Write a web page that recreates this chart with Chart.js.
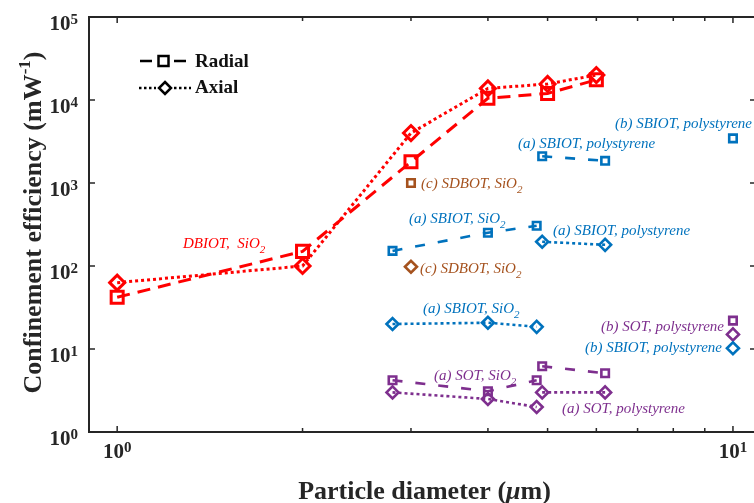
<!DOCTYPE html>
<html><head><meta charset="utf-8">
<script src="https://cdn.jsdelivr.net/npm/chart.js@4.4.1/dist/chart.umd.min.js"></script>
<style>html,body{margin:0;padding:0;overflow:hidden;background:#fff}</style>
</head><body>
<canvas id="c" width="770" height="503" style="width:770px;height:503px;display:block"></canvas>
<script>
// ---- data ----
const dbiotX = [1, 2, 3, 4, 5, 6];
const dbiotRadial = [42, 150, 1800, 10500, 12000, 17500];
const dbiotAxial = [63, 100, 4000, 13800, 15600, 20000];
const sbiotSiO2X = [2.8, 4.0, 4.8];
const sbiotSiO2Radial = [152, 252, 305];
const sbiotSiO2Axial = [20, 20.7, 18.5];
const sbiotPsAX = [4.9, 6.2];
const sbiotPsARadial = [2100, 1850];
const sbiotPsAAxial = [196, 180];
const sbiotPsBX = [10];
const sbiotPsBRadial = [3450];
const sbiotPsBAxial = [10.2];
const sdbotX = [3];
const sdbotRadial = [1000];
const sdbotAxial = [98];
const sotSiO2X = [2.8, 4.0, 4.8];
const sotSiO2Radial = [4.2, 3.1, 4.2];
const sotSiO2Axial = [3.0, 2.5, 2.0];
const sotPsAX = [4.9, 6.2];
const sotPsARadial = [6.2, 5.1];
const sotPsAAxial = [3.0, 3.0];
const sotPsBX = [10];
const sotPsBRadial = [22];
const sotPsBAxial = [15];
const xMajorTicks = [1, 10];
const xTickExp = ['0', '1'];
const yMajorTicks = [1, 10, 100, 1000, 10000, 100000];
const yTickExp = ['0', '1', '2', '3', '4', '5'];

const RED = '#ff0000', BLUE = '#0072BD', PURPLE = '#7E2F8E', BROWN = '#A5521E';

function ds(xa, ya, color, kind, big) {
  const radial = kind === 'radial';
  return {
    data: xa.map((x, i) => ({x: x, y: ya[i]})),
    borderColor: color,
    backgroundColor: 'rgba(0,0,0,0)',
    borderWidth: big ? 3 : 2.6,
    borderDash: radial ? (big ? [13, 8] : [10, 13]) : [3, 3],
    pointStyle: radial ? 'rect' : 'rectRot',
    pointRadius: radial ? (big ? 8.5 : 5.3) : (big ? 7.5 : 6),
    pointBorderWidth: big ? 3 : 2.6,
    pointBorderColor: color,
    pointBackgroundColor: 'rgba(0,0,0,0)',
    pointHoverRadius: 0,
    showLine: true,
    fill: false,
    tension: 0
  };
}

const datasets = [
  ds(sbiotSiO2X, sbiotSiO2Radial, BLUE, 'radial'),
  ds(sbiotSiO2X, sbiotSiO2Axial, BLUE, 'axial'),
  ds(sbiotPsAX, sbiotPsARadial, BLUE, 'radial'),
  ds(sbiotPsAX, sbiotPsAAxial, BLUE, 'axial'),
  ds(sbiotPsBX, sbiotPsBRadial, BLUE, 'radial'),
  ds(sbiotPsBX, sbiotPsBAxial, BLUE, 'axial'),
  ds(sdbotX, sdbotRadial, BROWN, 'radial'),
  ds(sdbotX, sdbotAxial, BROWN, 'axial'),
  ds(sotSiO2X, sotSiO2Radial, PURPLE, 'radial'),
  ds(sotSiO2X, sotSiO2Axial, PURPLE, 'axial'),
  ds(sotPsAX, sotPsARadial, PURPLE, 'radial'),
  ds(sotPsAX, sotPsAAxial, PURPLE, 'axial'),
  ds(sotPsBX, sotPsBRadial, PURPLE, 'radial'),
  ds(sotPsBX, sotPsBAxial, PURPLE, 'axial'),
  ds(dbiotX, dbiotRadial, RED, 'radial', true),
  ds(dbiotX, dbiotAxial, RED, 'axial', true)
];

const SERIF = '"Liberation Serif","Times New Roman",serif';
const annotations = [
  {x: 183, y: 248, color: RED, parts: [{t: 'DBIOT,  SiO'}, {t: '2', sub: true}]},
  {x: 421, y: 188, color: BROWN, parts: [{t: '(c) SDBOT, SiO'}, {t: '2', sub: true}]},
  {x: 420, y: 273, color: BROWN, parts: [{t: '(c) SDBOT, SiO'}, {t: '2', sub: true}]},
  {x: 518, y: 148, color: BLUE, parts: [{t: '(a) SBIOT, polystyrene'}]},
  {x: 752, y: 128, color: BLUE, align: 'right', parts: [{t: '(b) SBIOT, polystyrene'}]},
  {x: 409, y: 223, color: BLUE, parts: [{t: '(a) SBIOT, SiO'}, {t: '2', sub: true}]},
  {x: 553, y: 235, color: BLUE, parts: [{t: '(a) SBIOT, polystyrene'}]},
  {x: 423, y: 313, color: BLUE, parts: [{t: '(a) SBIOT, SiO'}, {t: '2', sub: true}]},
  {x: 724, y: 331, color: PURPLE, align: 'right', parts: [{t: '(b) SOT, polystyrene'}]},
  {x: 722, y: 352, color: BLUE, align: 'right', parts: [{t: '(b) SBIOT, polystyrene'}]},
  {x: 434, y: 380, color: PURPLE, parts: [{t: '(a) SOT, SiO'}, {t: '2', sub: true}]},
  {x: 562, y: 413, color: PURPLE, parts: [{t: '(a) SOT, polystyrene'}]}
];

function richWidth(ctx, parts, font, smallFont) {
  let w = 0;
  for (const p of parts) { ctx.font = (p.sub || p.sup) ? smallFont : (p.font || font); w += ctx.measureText(p.t).width; }
  return w;
}
function drawRich(ctx, x, y, parts, font, smallFont, color, align, subOff, supOff) {
  const w = richWidth(ctx, parts, font, smallFont);
  let cx = align === 'right' ? x - w : (align === 'center' ? x - w / 2 : x);
  ctx.fillStyle = color;
  ctx.textBaseline = 'alphabetic';
  ctx.textAlign = 'left';
  for (const p of parts) {
    ctx.font = (p.sub || p.sup) ? smallFont : (p.font || font);
    const dy = p.sub ? subOff : (p.sup ? -supOff : 0);
    ctx.fillText(p.t, cx, y + dy);
    cx += ctx.measureText(p.t).width;
  }
}

const decor = {
  id: 'decor',
  afterDatasetsDraw(chart) {
    const ctx = chart.ctx, a = chart.chartArea;
    const xs = chart.scales.x, ys = chart.scales.y;
    ctx.save();
    // annotations
    for (const an of annotations) {
      drawRich(ctx, an.x, an.y, an.parts, 'italic 15px ' + SERIF, 'italic 11px ' + SERIF, an.color, an.align, 5, 0);
    }
    // frame
    ctx.strokeStyle = '#262626';
    ctx.lineWidth = 2;
    ctx.setLineDash([]);
    ctx.strokeRect(a.left, a.top, a.right - a.left, a.bottom - a.top);
    // ticks
    ctx.lineWidth = 1.5;
    ctx.beginPath();
    for (let d = 0.1; d <= 10; d *= 10) {
      for (let m = 1; m <= 9; m++) {
        const v = d * m;
        if (v < xs.min || v > xs.max) continue;
        const px = xs.getPixelForValue(v);
        const len = m === 1 ? 6 : 4;
        ctx.moveTo(px, a.bottom); ctx.lineTo(px, a.bottom - len);
        ctx.moveTo(px, a.top); ctx.lineTo(px, a.top + len);
      }
    }
    for (const v of yMajorTicks) {
      const py = ys.getPixelForValue(v);
      ctx.moveTo(a.left, py); ctx.lineTo(a.left + 6, py);
      ctx.moveTo(a.right, py); ctx.lineTo(a.right - 6, py);
    }
    ctx.stroke();
    // tick labels
    const bigF = 'bold 21px ' + SERIF, supF = 'bold 15px ' + SERIF;
    xMajorTicks.forEach((v, i) => {
      const px = xs.getPixelForValue(v);
      drawRich(ctx, px, a.bottom + 26, [{t: '10'}, {t: xTickExp[i], sup: true}], bigF, supF, '#262626', 'center', 0, 6);
    });
    yMajorTicks.forEach((v, i) => {
      const py = ys.getPixelForValue(v);
      drawRich(ctx, a.left - 11, py + 13, [{t: '10'}, {t: yTickExp[i], sup: true}], bigF, supF, '#262626', 'right', 0, 6);
    });
    // axis titles
    const tF = 'bold 26px ' + SERIF;
    drawRich(ctx, (a.left + a.right) / 2 + 2, 499,
      [{t: 'Particle diameter ('}, {t: '\u03bc', font: 'italic bold 26px ' + SERIF}, {t: 'm)'}],
      tF, 'bold 16px ' + SERIF, '#262626', 'center', 0, 0);
    ctx.save();
    ctx.translate(41, (a.top + a.bottom) / 2 - 2);
    ctx.rotate(-Math.PI / 2);
    drawRich(ctx, 0, 0, [{t: 'Confinement efficiency (mW'}, {t: '-1', sup: true}, {t: ')'}],
      tF, 'bold 17px ' + SERIF, '#262626', 'center', 0, 11);
    ctx.restore();
    // legend
    ctx.strokeStyle = '#000';
    ctx.lineWidth = 2.5;
    ctx.setLineDash([]);
    ctx.beginPath();
    ctx.moveTo(140, 61); ctx.lineTo(152, 61);
    ctx.moveTo(174, 61); ctx.lineTo(186, 61);
    ctx.stroke();
    ctx.strokeRect(158.5, 56, 10, 10);
    ctx.setLineDash([2.5, 2.5]);
    ctx.beginPath();
    ctx.moveTo(139, 88); ctx.lineTo(156, 88);
    ctx.moveTo(174, 88); ctx.lineTo(191, 88);
    ctx.stroke();
    ctx.setLineDash([]);
    ctx.beginPath();
    ctx.moveTo(165, 82); ctx.lineTo(171, 88); ctx.lineTo(165, 94); ctx.lineTo(159, 88); ctx.closePath();
    ctx.stroke();
    ctx.fillStyle = '#111';
    ctx.font = 'bold 19px ' + SERIF;
    ctx.textAlign = 'left';
    ctx.textBaseline = 'alphabetic';
    ctx.fillText('Radial', 195, 67);
    ctx.fillText('Axial', 195, 93);
    ctx.restore();
  }
};

new Chart(document.getElementById('c'), {
  type: 'scatter',
  data: {datasets: datasets},
  options: {
    responsive: false,
    animation: false,
    devicePixelRatio: 1,
    layout: {padding: {left: 89, top: 17, right: 14, bottom: 71}},
    plugins: {legend: {display: false}, tooltip: {enabled: false}},
    events: [],
    scales: {
      x: {type: 'logarithmic', min: 0.9, max: 10.9, display: false},
      y: {type: 'logarithmic', min: 1, max: 100000, display: false}
    }
  },
  plugins: [decor]
});
</script>
</body></html>
